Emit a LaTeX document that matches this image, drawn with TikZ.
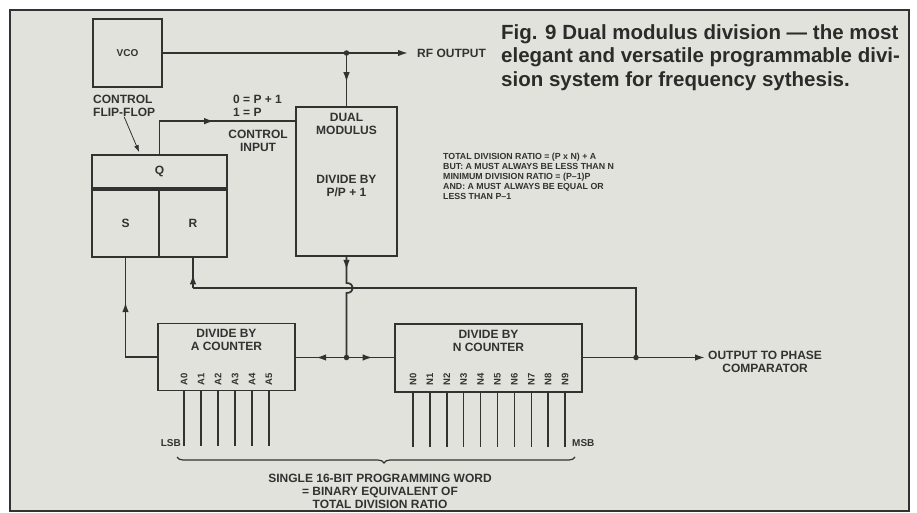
\documentclass[tikz,border=0pt]{standalone}
\usepackage{fontspec}
\setmainfont{Liberation Sans}
\usepackage{xcolor}
\usetikzlibrary{arrows.meta,positioning,calc,decorations.pathreplacing,decorations.markings}
\definecolor{scan}{RGB}{226,226,221}
\definecolor{ink}{RGB}{50,50,48}

\begin{document}
\begin{tikzpicture}[x=1pt, y=-1pt,
    box/.style={rectangle, draw=ink, line width=1.7pt, inner sep=0pt},
    lbl/.style={font=\fontsize{12}{13}\selectfont\bfseries, text=ink, align=center, inner sep=0pt},
    note/.style={font=\fontsize{8.8}{10}\selectfont\bfseries, text=ink, align=left, inner sep=0pt},
    pinlbl/.style={font=\fontsize{9.5}{10}\selectfont\bfseries, text=ink, rotate=90, inner sep=0pt},
    line/.style={color=ink, line width=1.7pt},
    endtip/.style={-{Latex[length=10pt,width=6.5pt]}},
    arrowat/.style={postaction={decorate}, decoration={markings, mark=at position #1 with {\arrow{Latex[length=10pt,width=6.5pt]}}}},
    dot/.style={circle, fill=ink, inner sep=0pt, minimum size=5.5pt}]

    % frame
    \useasboundingbox (0,0) rectangle (917,513);
    \draw[ink, fill=scan, line width=2.4pt] (10,10) rectangle (909,511);

    % blocks
    \node[box, lbl, minimum width=69pt, minimum height=68pt, font=\fontsize{10}{11}\selectfont\bfseries] (vco) at (127.5,53) {VCO};
    \node[box, lbl, minimum width=135pt, minimum height=33pt] (q) at (159.5,171.5) {Q};
    \node[box, lbl, minimum width=67pt, minimum height=67pt, anchor=north west] (s) at (q.south west) {S};
    \node[box, lbl, minimum width=68pt, minimum height=67pt, anchor=north east] (r) at (q.south east) {R};
    \node[box, minimum width=101pt, minimum height=149pt] (dm) at (346.5,181.5) {};
    \node[lbl] (dmtop) at (346.5,124) {DUAL\\MODULUS};
    \node[lbl] (dmdiv) at (346.5,186) {DIVIDE BY\\P/P + 1};
    \node[box, minimum width=137pt, minimum height=67pt] (acnt) at (226.5,357) {};
    \node[lbl] (atitle) at (226.5,340) {DIVIDE BY\\A COUNTER};
    \node[box, minimum width=187pt, minimum height=68pt] (ncnt) at (488.5,358) {};
    \node[lbl] (ntitle) at (488.5,341) {DIVIDE BY\\N COUNTER};

    % programming pins
    \foreach \i in {0,...,5} {
        \node[pinlbl] (a\i) at (184+17*\i,379) {A\i};
        \draw[line, line width=1.5pt] (a\i |- acnt.south) -- ++(0,55);
    }
    \foreach \i in {0,...,9} {
        \node[pinlbl] (n\i) at (413+16.9*\i,379) {N\i};
        \draw[line, line width=1.5pt] (n\i |- ncnt.south) -- ++(0,54);
    }
    \node[lbl, font=\fontsize{10}{11}\selectfont\bfseries, anchor=east] (lsb) at (181,443) {LSB};
    \node[lbl, font=\fontsize{10}{11}\selectfont\bfseries, anchor=west] (msb) at (572,443) {MSB};
    \draw[line, line width=1.2pt, decorate, decoration={brace, mirror, amplitude=6pt, aspect=0.52}] (177,457) -- (575,457);
    \node[lbl, anchor=north] (word) at (380,474) {SINGLE 16-BIT PROGRAMMING WORD\\= BINARY EQUIVALENT OF\\TOTAL DIVISION RATIO};

    % rf output
    \coordinate (rfout) at (408,53);
    \coordinate (j1) at (346.5,53);
    \draw[line, endtip] (vco) -- (rfout);
    \draw[line, arrowat=0.55] (j1) -- (dm);
    \node[dot] (d1) at (j1) {};
    \node[lbl, right=9pt of rfout] (rflbl) {RF OUTPUT};

    % control input
    \draw[line, arrowat=0.52] (q.north) |- ($(dm.north west)+(0,15)$);
    \node[lbl, align=left, anchor=north west] (ratio) at (233,95) {0 = P + 1\\1 = P};
    \node[lbl] (cin) at (258,141) {CONTROL\\INPUT};
    \node[lbl, align=left, anchor=north west] (ffl) at (93,95) {CONTROL\\FLIP-FLOP};
    \draw[color=ink, line width=0.8pt, -{Latex[length=7pt,width=5pt]}] (ffl.south) -- ($(q.north west)+(48,-2)$);

    % divider output, jumping the reset line
    \coordinate (j2) at (346.5,357.5);
    \coordinate (rtop) at (193,288);
    \draw[line, arrowat=0.12] (dm.south) -- (346.5,283) .. controls (355,283) and (355,293) .. (346.5,293) -- (j2);
    \node[dot] (d2) at (j2) {};
    \draw[line, arrowat=0.6] (j2) -- (acnt.east |- j2);
    \draw[line, arrowat=0.55] (j2) -- (ncnt.west |- j2);

    % output to comparator and reset
    \coordinate (j3) at (636,357.5);
    \coordinate (pout) at (705,357.5);
    \draw[line, endtip] (ncnt.east |- j3) -- (pout);
    \draw[line] (j3) |- (rtop);
    \draw[line, arrowat=0.45] (rtop) -- (r);
    \node[dot] (d3) at (j3) {};
    \node[lbl, right=3pt of pout, yshift=-4pt] (plbl) {OUTPUT TO PHASE\\COMPARATOR};

    % set
    \draw[line, arrowat=0.66] (acnt.west) -| (s);

    % notes
    \node[note, anchor=north west] (rules) at (443,153) {TOTAL DIVISION RATIO = (P x N) + A\\BUT: A MUST ALWAYS BE LESS THAN N\\MINIMUM DIVISION RATIO = (P–1)P\\AND: A MUST ALWAYS BE EQUAL OR\\LESS THAN P–1};
    \node[anchor=north west, inner sep=0pt, align=left, text=ink!85!black, font=\fontsize{20.5}{23.5}\selectfont\bfseries] (cap) at (501,24) {Fig. 9 Dual modulus division — the most\\elegant and versatile programmable divi-\\sion system for frequency sythesis.};
\end{tikzpicture}
\end{document}
